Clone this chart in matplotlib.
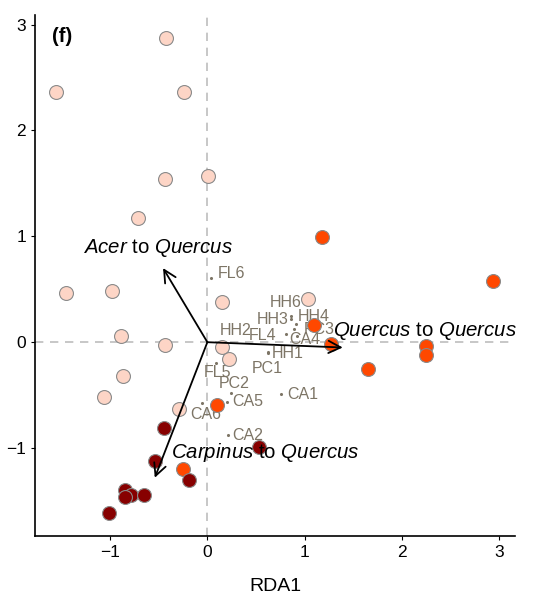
import matplotlib
matplotlib.use("Agg")
import matplotlib.pyplot as plt
import numpy as np

plt.rcParams['font.family'] = ['Liberation Sans', 'DejaVu Sans']
plt.rcParams['mathtext.fontset'] = 'custom'
plt.rcParams['mathtext.rm'] = 'Liberation Sans'
plt.rcParams['mathtext.it'] = 'Liberation Sans:italic'

# sample scores on RDA1/RDA2, by group
acer_x = [-1.55, -0.42, -0.24, -0.43, 0.01, -0.71, -1.45, -0.98, 0.15, 1.03,
          -0.89, -0.43, 0.15, 0.22, -0.87, -1.06, -0.29]
acer_y = [2.36, 2.87, 2.36, 1.54, 1.57, 1.17, 0.46, 0.48, 0.38, 0.41,
          0.06, -0.03, -0.05, -0.16, -0.32, -0.52, -0.63]
quercus_x = [1.18, 2.93, 1.10, 1.27, 2.25, 2.25, 1.65, 0.10, -0.25]
quercus_y = [0.99, 0.58, 0.16, -0.02, -0.04, -0.12, -0.25, -0.59, -1.20]
carpinus_x = [-0.45, -0.54, 0.53, -0.19, -0.85, -0.78, -0.85, -0.65, -1.01]
carpinus_y = [-0.81, -1.12, -0.99, -1.30, -1.40, -1.44, -1.46, -1.44, -1.61]

# site scores
sites = ['FL6', 'HH6', 'HH3', 'HH4', 'PC3', 'FL4', 'CA4', 'HH2', 'HH1', 'PC1',
         'FL5', 'PC2', 'CA5', 'CA6', 'CA1', 'CA2']
site_x = [0.04, 0.86, 0.86, 0.91, 0.89, 0.81, 0.92, 0.17, 0.62, 0.62,
          0.09, 0.24, 0.20, -0.06, 0.76, 0.21]
site_y = [0.61, 0.25, 0.22, 0.17, 0.12, 0.08, 0.06, -0.03, -0.09, -0.10,
          -0.20, -0.48, -0.56, -0.57, -0.49, -0.88]

# transition vectors
trans_from = ['Acer', 'Quercus', 'Carpinus']
trans_x = [-0.455, 1.39, -0.54]
trans_y = [0.70, -0.05, -1.28]

# label offsets in pixels (repelled by hand)
site_off = {'FL6': (20, 4), 'HH6': (-5, 13), 'HH3': (-18, -1), 'HH4': (18, 8),
            'PC3': (25, 0), 'FL4': (-24, -2), 'CA4': (8, -4), 'HH2': (12, 15),
            'HH1': (20, -2), 'PC1': (0, -16), 'FL5': (1, -9), 'PC2': (3, 10),
            'CA5': (21, 0), 'CA6': (4, -12), 'CA1': (21, 0), 'CA2': (20, 0)}
trans_off = {'Acer': (-5, 20, 'center'), 'Quercus': (-10, 16, 'left'),
             'Carpinus': (16, 25, 'left')}

fig = plt.figure(figsize=(5.48, 5.97), dpi=100)
ax = fig.add_axes([0.0639, 0.1022, 0.876, 0.8727])

ax.axhline(0, color='#bdbdbd', lw=1.2, ls=(0, (5, 4)), zorder=1)
ax.axvline(0, color='#bdbdbd', lw=1.2, ls=(0, (5, 4)), zorder=1)

site_col = '#7d7566'
ax.scatter(site_x, site_y, s=5, color=site_col, zorder=2, linewidths=0)
for name, x, y in zip(sites, site_x, site_y):
    dx, dy = site_off[name]
    ax.annotate(name, (x, y), xytext=(dx, dy), textcoords='offset pixels',
                ha='center', va='center', fontsize=11.5, color=site_col, zorder=2)

edge = '#8a8a8a'
ax.scatter(acer_x, acer_y, s=100, color='#fdd5c6', edgecolors=edge, linewidths=0.8, zorder=3)
ax.scatter(quercus_x, quercus_y, s=100, color='#ff4800', edgecolors=edge, linewidths=0.8, zorder=3)
ax.scatter(carpinus_x, carpinus_y, s=100, color='#870000', edgecolors=edge, linewidths=0.8, zorder=3)

for name, x, y in zip(trans_from, trans_x, trans_y):
    ax.annotate('', xy=(x, y), xytext=(0, 0),
                arrowprops=dict(arrowstyle='->', lw=1.3, color='black',
                                mutation_scale=22, shrinkA=0, shrinkB=0),
                zorder=4)
    dx, dy, ha = trans_off[name]
    ax.annotate(r'$\it{' + name + r'}$ to $\it{Quercus}$', (x, y),
                xytext=(dx, dy), textcoords='offset pixels',
                ha=ha, va='center', fontsize=14.7, color='black', zorder=5)

ax.text(0.035, 0.958, '(f)', transform=ax.transAxes, fontsize=14.5,
        fontweight='bold', ha='left', va='center')

ax.set_xlim(-1.77, 3.16)
ax.set_ylim(-1.83, 3.09)
ax.set_xticks([-1, 0, 1, 2, 3])
ax.set_yticks([-1, 0, 1, 2, 3])
ax.set_xticklabels(['\u22121', '0', '1', '2', '3'])
ax.set_yticklabels(['\u22121', '0', '1', '2', '3'])
ax.tick_params(labelsize=12.5, length=3, width=0.8, colors='black')
for s in ['top', 'right']:
    ax.spines[s].set_visible(False)
for s in ['left', 'bottom']:
    ax.spines[s].set_linewidth(1.2)
ax.set_xlabel('RDA1', fontsize=14, labelpad=13)

fig.savefig('out.png', dpi=100)
